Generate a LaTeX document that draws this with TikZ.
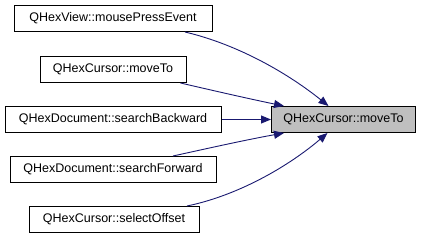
\documentclass[tikz,border=0pt]{standalone}
\usepackage{fontspec}
\setmainfont{Liberation Sans}
\usetikzlibrary{arrows.meta}
\definecolor{edgeblue}{HTML}{191970}
\definecolor{focusgray}{HTML}{BFBFBF}
\tikzset{
  fnbox/.style={draw=black, line width=1pt, fill=white, minimum height=26pt, inner sep=0pt,
    font=\fontsize{12.5}{15}\selectfont},
  focusbox/.style={fnbox, fill=focusgray},
  calledge/.style={draw=edgeblue, line width=0.9pt, -{Triangle[length=10pt,width=8pt]}},
}
\begin{document}
\begin{tikzpicture}[x=1pt,y=-1pt]
\useasboundingbox (0,0) rectangle (423,240);
\node[fnbox, minimum width=198pt] (b1) at (113,18.5) {QHexView::mousePressEvent};
\node[fnbox, minimum width=146pt] (b2) at (113,69.5) {QHexCursor::moveTo};
\node[fnbox, minimum width=216pt] (b3) at (113,119.5) {QHexDocument::searchBackward};
\node[fnbox, minimum width=206pt] (b4) at (113,169.5) {QHexDocument::searchForward};
\node[fnbox, minimum width=170pt] (b5) at (114,219.5) {QHexCursor::selectOffset};
\node[focusbox, minimum width=144pt] (r) at (343.5,119.5) {QHexCursor::moveTo};

\draw[calledge] ([xshift=72pt]b1.south) .. controls (240,45) and (290,75) .. ([xshift=-15pt]r.north);
\draw[calledge] ([xshift=-6pt]b2.south east) .. controls (215,91) and (250,99) .. ([xshift=13pt]r.north west);
\draw[calledge] (b3.east) -- (r.west);
\draw[calledge] ([xshift=60pt]b4.north) .. controls (205,149) and (245,140) .. ([xshift=13pt]r.south west);
\draw[calledge] ([xshift=73pt]b5.north) .. controls (240,195) and (290,165) .. ([xshift=-16pt]r.south);
\end{tikzpicture}
\end{document}
